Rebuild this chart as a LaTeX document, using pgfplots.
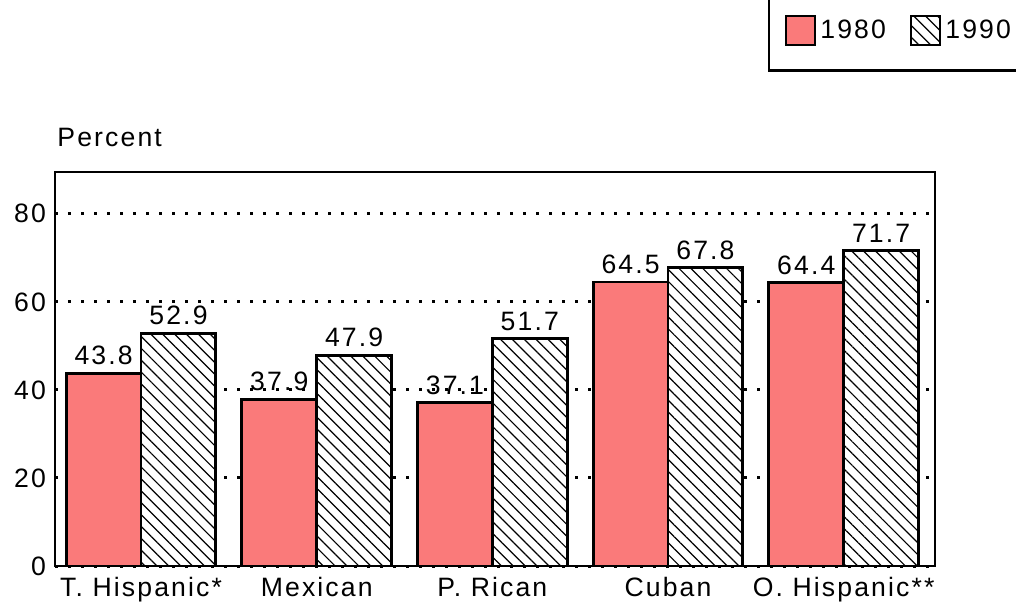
\documentclass[border=0pt]{standalone}
\usepackage{fontspec}
\setmainfont{Liberation Sans}[LetterSpace=8]
\usepackage{pgfplots}
\pgfplotsset{compat=1.18}
\usetikzlibrary{patterns.meta}
\definecolor{salmon}{RGB}{250,122,122}
\newcommand{\chartfont}{\fontsize{13.3}{16}\selectfont}

\begin{document}
\begin{tikzpicture}
\useasboundingbox (-27.5pt,-22.5pt) rectangle (480.5pt,283pt);
\begin{axis}[
    at={(0,0)}, anchor=south west,
    scale only axis,
    width=440pt, height=197pt,
    ymin=0, ymax=89.5,
    xmin=-0.49, xmax=4.52,
    ybar=0pt, bar width=0.426,
    xtick={0,...,4},
    xticklabels={T. Hispanic*, Mexican, P. Rican, Cuban, O. Hispanic**},
    ytick={0,20,40,60,80},
    major tick length=0pt,
    xticklabel style={yshift=-2pt},
    yticklabel style={xshift=-1pt},
    ymajorgrids,
    grid style={black, line width=1.5pt, dash pattern=on 1.5pt off 5pt},
    axis line style={line width=1.2pt},
    font=\chartfont,
    /pgf/number format/assume math mode=true,
    nodes near coords,
    every node near coord/.append style={font=\chartfont,
        /pgf/number format/fixed, /pgf/number format/fixed zerofill,
        /pgf/number format/precision=1},
    legend style={at={(0.81,1.255)}, anchor=south west, draw=black,
        line width=1.2pt, legend columns=2, font=\chartfont,
        inner xsep=8pt, inner ysep=12pt,
        /tikz/every even column/.append style={column sep=10pt}},
    legend image code/.code={\draw[#1, line width=1.2pt] (0pt,-7.25pt) rectangle (14.5pt,7.25pt);},
]
% 1980
\addplot[draw=black, line width=1.4pt, fill=salmon] coordinates {
    (0,43.8) (1,37.9) (2,37.1) (3,64.5) (4,64.4)
};
% 1990
\addplot[draw=black, line width=1.4pt, fill=white,
    postaction={pattern={Lines[angle=-45, distance=4.2pt, line width=0.6pt]}}] coordinates {
    (0,52.9) (1,47.9) (2,51.7) (3,67.8) (4,71.7)
};
\legend{1980, 1990}
\end{axis}
\node[anchor=base west, inner sep=0pt, font=\chartfont] at (1pt,209.5pt) {Percent};
\end{tikzpicture}
\end{document}
